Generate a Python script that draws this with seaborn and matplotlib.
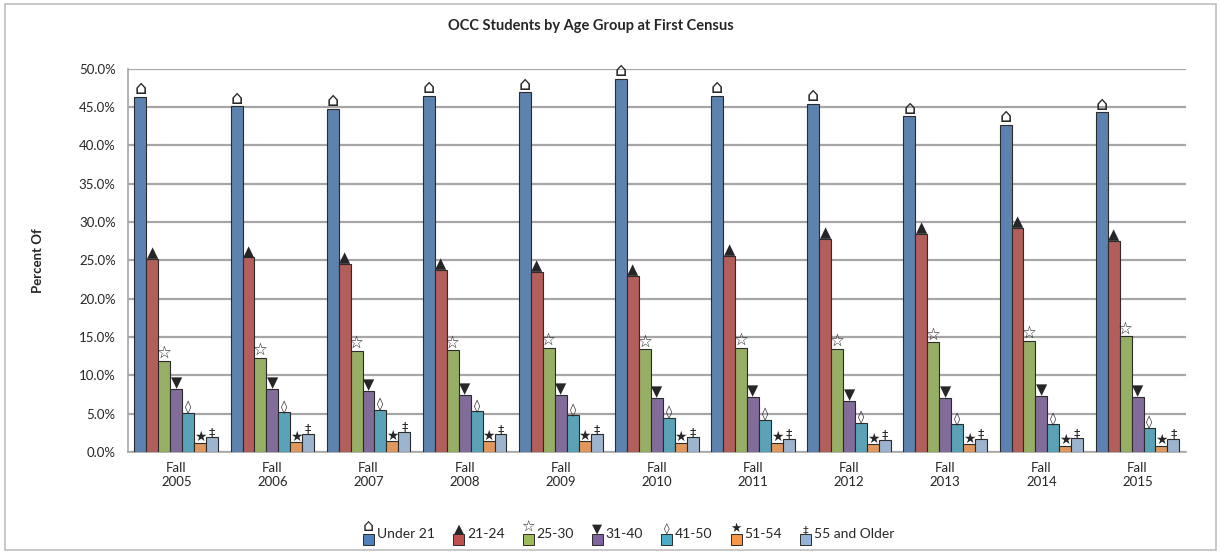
import numpy as np
import pandas as pd
import matplotlib
matplotlib.use("Agg")
import matplotlib.pyplot as plt
import seaborn as sns
from matplotlib.patches import Rectangle
from matplotlib.legend_handler import HandlerBase
from matplotlib.ticker import PercentFormatter, FixedLocator

years = ["Fall\n2005", "Fall\n2006", "Fall\n2007", "Fall\n2008", "Fall\n2009", "Fall\n2010",
         "Fall\n2011", "Fall\n2012", "Fall\n2013", "Fall\n2014", "Fall\n2015"]
groups = ["Under 21", "21-24", "25-30", "31-40", "41-50", "51-54", "55 and Older"]

under_21 = [46.3, 45.1, 44.8, 46.5, 46.9, 48.7, 46.5, 45.4, 43.8, 42.7, 44.3]
age_21_24 = [25.2, 25.4, 24.5, 23.8, 23.5, 23.0, 25.6, 27.8, 28.5, 29.2, 27.5]
age_25_30 = [11.9, 12.3, 13.2, 13.3, 13.6, 13.4, 13.6, 13.5, 14.3, 14.5, 15.1]
age_31_40 = [8.2, 8.2, 8.0, 7.5, 7.5, 7.1, 7.2, 6.7, 7.1, 7.3, 7.2]
age_41_50 = [5.1, 5.2, 5.5, 5.3, 4.8, 4.5, 4.2, 3.8, 3.6, 3.6, 3.2]
age_51_54 = [1.2, 1.3, 1.4, 1.4, 1.4, 1.2, 1.2, 1.0, 1.0, 0.8, 0.8]
age_55_up = [1.9, 2.4, 2.6, 2.3, 2.3, 1.9, 1.7, 1.6, 1.7, 1.8, 1.7]

series = [under_21, age_21_24, age_25_30, age_31_40, age_41_50, age_51_54, age_55_up]
glyphs = ["\u2302", "\u25B2", "\u2606", "\u25BC", "\u25CA", "\u2605", "\u2021"]
glyph_sizes = [14, 10.5, 12, 10.5, 9, 10, 9]
colors = ["#4F81BD", "#C0504D", "#9BBB59", "#8064A2", "#4BACC6", "#F79646", "#95B3D7"]

rows = []
for g, vals in zip(groups, series):
    for y, v in zip(years, vals):
        rows.append({"year": y, "group": g, "pct": v / 100})
df = pd.DataFrame(rows)

sns.set_style("white")
plt.rcParams["font.family"] = ["Lato", "DejaVu Sans"]

fig = plt.figure(figsize=(12.21, 5.54), dpi=100)
ax = fig.add_axes([0.105, 0.184, 0.866, 0.692])

sns.barplot(data=df, x="year", y="pct", hue="group", hue_order=groups, order=years,
            palette=colors, width=0.87, gap=0, edgecolor="#2b2b2b", linewidth=0.8,
            legend=False, ax=ax, zorder=3)

# glyph above every bar
for cont, glyph, gs in zip(ax.containers, glyphs, glyph_sizes):
    for bar in cont:
        x = bar.get_x() + bar.get_width() / 2
        ax.annotate(glyph, (x, bar.get_height()), xytext=(0, -1), textcoords="offset points",
                    ha="center", va="bottom", fontsize=gs, family=["DejaVu Sans"], zorder=4)

ax.set_ylim(0, 0.5)
ax.set_xlim(-0.5, len(years) - 0.5)
ax.yaxis.set_major_formatter(PercentFormatter(1.0, decimals=1))
ax.set_yticks(np.arange(0, 0.51, 0.05))
ax.grid(axis="y", color="#a6a6a6", linewidth=1.6, zorder=0)
ax.set_axisbelow(True)
for s in ["top", "right"]:
    ax.spines[s].set_visible(False)
ax.spines["left"].set_color("#a6a6a6")
ax.spines["bottom"].set_color("#a6a6a6")
ax.spines["left"].set_linewidth(1.2)
ax.spines["bottom"].set_linewidth(1.2)
ax.tick_params(axis="y", length=6, color="#a6a6a6", labelsize=9.5, pad=3)
ax.tick_params(axis="x", which="major", length=0, labelsize=9.5, pad=7)
ax.xaxis.set_minor_locator(FixedLocator(np.arange(-0.5, len(years), 1.0)))
ax.tick_params(axis="x", which="minor", length=6, color="#a6a6a6")
ax.set_xlabel("")
ax.set_ylabel("Percent Of", fontsize=9.5, fontweight="bold", labelpad=25)

fig.suptitle("OCC Students by Age Group at First Census", fontsize=10.5, fontweight="bold",
             x=0.484, y=0.965)

# legend: colored square with glyph above it
class GlyphHandler(HandlerBase):
    def __init__(self, glyph, color, size):
        super().__init__()
        self.glyph = glyph
        self.color = color
        self.size = size

    def create_artists(self, legend, orig_handle, xdescent, ydescent, width, height, fontsize, trans):
        s = width
        sq = Rectangle((-xdescent, -ydescent), s, s, facecolor=self.color,
                       edgecolor="#2b2b2b", linewidth=0.7, transform=trans)
        txt = plt.Text(-xdescent + s / 2, -ydescent + s - 1, self.glyph, ha="center", va="bottom",
                       fontsize=self.size, family="DejaVu Sans", transform=trans)
        return [sq, txt]

handles = [Rectangle((0, 0), 1, 1) for _ in groups]
handler_map = {h: GlyphHandler(g, c, gs * 0.9) for h, g, c, gs in zip(handles, glyphs, colors, glyph_sizes)}
fig.legend(handles, groups, handler_map=handler_map, loc="center", bbox_to_anchor=(0.515, 0.036),
           ncol=7, frameon=False, fontsize=10, handlelength=0.8, handleheight=2.0,
           handletextpad=0.2, columnspacing=1.3)

fig.add_artist(Rectangle((0.004, 0.008), 0.992, 0.984, transform=fig.transFigure,
                         fill=False, edgecolor="#bfbfbf", linewidth=1.2))

fig.savefig("out.png", dpi=100)
